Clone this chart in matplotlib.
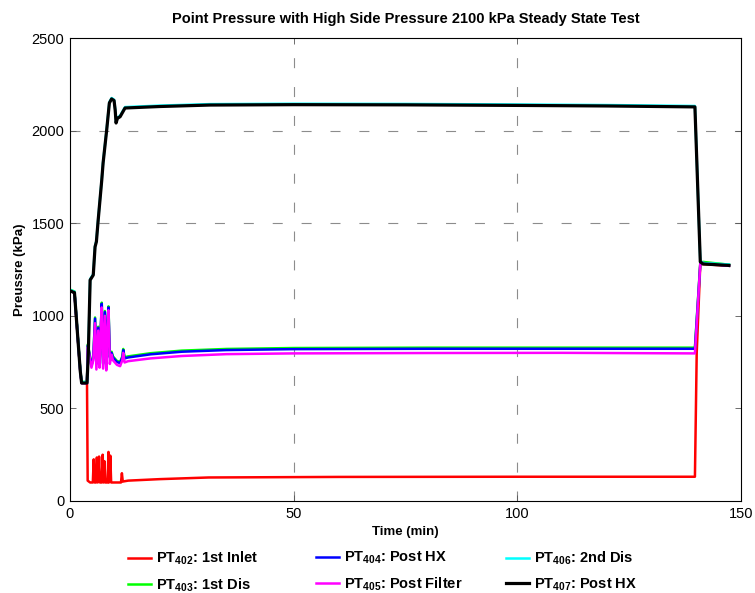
import matplotlib
matplotlib.use('Agg')
import matplotlib.pyplot as plt

plt.rcParams['font.family'] = ['Liberation Sans', 'DejaVu Sans']
plt.rcParams['mathtext.fontset'] = 'custom'
plt.rcParams['mathtext.rm'] = 'Liberation Sans:bold'
plt.rcParams['mathtext.default'] = 'rm'

# ---- data (time in min, pressure in kPa)
t_407 = [0, 1.0, 1.9, 2.3, 2.6, 3.8, 4.1, 4.5, 5.2, 5.6, 5.9, 6.3, 7.1, 7.4, 8.2, 8.8,
         9.3, 9.85, 10.1, 10.3, 10.6, 11.2, 12.3, 20, 31.3, 50, 75, 100, 120, 139.7,
         140.9, 141.5, 147.3]
p_407 = [1135, 1125, 830, 700, 637, 637, 800, 1193, 1220, 1372, 1400, 1517, 1733, 1825,
         2003, 2149, 2171, 2162, 2111, 2041, 2066, 2075, 2122, 2130, 2138, 2140, 2139,
         2136, 2133, 2128, 1292, 1280, 1272]

t_406 = t_407
p_406 = [p + 5 for p in p_407]

t_402 = [0, 1.0, 1.9, 2.3, 2.6, 3.8, 3.95, 4.5, 5.1, 5.3, 5.5, 5.8, 6.0, 6.2, 6.3, 6.5,
         6.7, 7.1, 7.3, 7.5, 7.6, 7.7, 7.9, 8.4, 8.6, 8.7, 8.8, 9.0, 9.2, 11.4, 11.6,
         11.8, 13, 20, 31, 60, 100, 139.7, 140.1, 140.9, 147.3]
p_402 = [1135, 1125, 830, 700, 637, 637, 110, 100, 100, 225, 100, 100, 235, 100, 105, 240,
         100, 100, 250, 100, 105, 215, 100, 100, 265, 100, 105, 245, 100, 100, 150,
         105, 110, 118, 127, 130, 131, 131, 800, 1280, 1270]

t_405 = [0, 1.0, 1.9, 2.3, 2.6, 3.8, 4.0, 4.3, 4.8, 5.2, 5.6, 5.9, 6.3, 6.6, 6.8, 7.1,
         7.4, 7.8, 8.1, 8.3, 8.6, 8.9, 9.3, 9.6, 10.5, 11.2, 11.7, 11.9, 12.2, 13, 18,
         25, 35, 50, 80, 110, 139.7, 140.9, 141.5, 147.3]
p_405 = [1135, 1125, 830, 700, 637, 637, 830, 790, 720, 760, 960, 710, 920, 720, 860,
         1045, 715, 1000, 705, 880, 1030, 740, 790, 760, 735, 728, 760, 800, 748, 755,
         770, 783, 793, 797, 799, 800, 797, 1280, 1285, 1270]

t_404 = t_405
p_404 = [1135, 1125, 830, 700, 637, 637, 840, 800, 730, 770, 985, 740, 935, 730, 880,
         1065, 740, 1020, 720, 900, 1045, 775, 800, 775, 750, 745, 775, 815, 770, 775,
         792, 806, 815, 820, 822, 822, 822, 1280, 1285, 1270]

t_403 = t_405
p_403 = [p + 6 for p in p_404]

labels = ['PT$_{402}$: 1st Inlet', 'PT$_{403}$: 1st Dis', 'PT$_{404}$: Post HX',
          'PT$_{405}$: Post Filter', 'PT$_{406}$: 2nd Dis', 'PT$_{407}$: Post HX']
colors = ['#ff0000', '#00ff00', '#0000ff', '#ff00ff', '#00ffff', '#000000']

fig = plt.figure(figsize=(7.55, 5.93), dpi=100)
ax = fig.add_axes([70 / 755, 1 - 501 / 593, 671 / 755, 463 / 593])

# grid (only these dashed lines are visible in the reference)
for y in [1500, 2000]:
    ax.axhline(y, color='#8c8c8c', lw=0.8, ls=(0, (9, 17)), zorder=0)
for x in [50, 100]:
    ax.axvline(x, color='#8c8c8c', lw=0.8, ls=(0, (9, 17)), zorder=0)

series = [(t_402, p_402), (t_403, p_403), (t_404, p_404),
          (t_405, p_405), (t_406, p_406), (t_407, p_407)]
lines = []
for (t, p), c, lab in zip(series, colors, labels):
    lw = 2.3 if c == '#000000' else 1.8
    ln, = ax.plot(t, p, color=c, lw=lw, label=lab)
    lines.append(ln)

ax.set_xlim(0, 150)
ax.set_ylim(0, 2500)
ax.set_xticks([0, 50, 100, 150])
ax.set_yticks([0, 500, 1000, 1500, 2000, 2500])
ax.tick_params(direction='in', top=True, right=True, length=4, width=0.6,
               color='#555555', labelsize=10.5, pad=4)
for s in ax.spines.values():
    s.set_linewidth(0.8)

ax.set_title('Point Pressure with High Side Pressure 2100 kPa Steady State Test',
             fontsize=10.5, fontweight='bold', pad=11)
ax.set_xlabel('Time (min)', fontsize=9.5, fontweight='bold', labelpad=4)
ax.set_ylabel('Preussre (kPa)', fontsize=9.5, fontweight='bold', labelpad=4)

# legend: three columns placed at the reference positions
col_x = [128, 316, 506]
for i in range(3):
    fig.legend(handles=lines[2 * i:2 * i + 2], loc='upper left',
               bbox_to_anchor=(col_x[i] / 755, 1 - 550 / 593),
               frameon=False, borderpad=0, borderaxespad=0, handlelength=1.6,
               handletextpad=0.35, labelspacing=0.62,
               prop={'weight': 'bold', 'size': 10.5})

fig.savefig('out.png', dpi=100)
